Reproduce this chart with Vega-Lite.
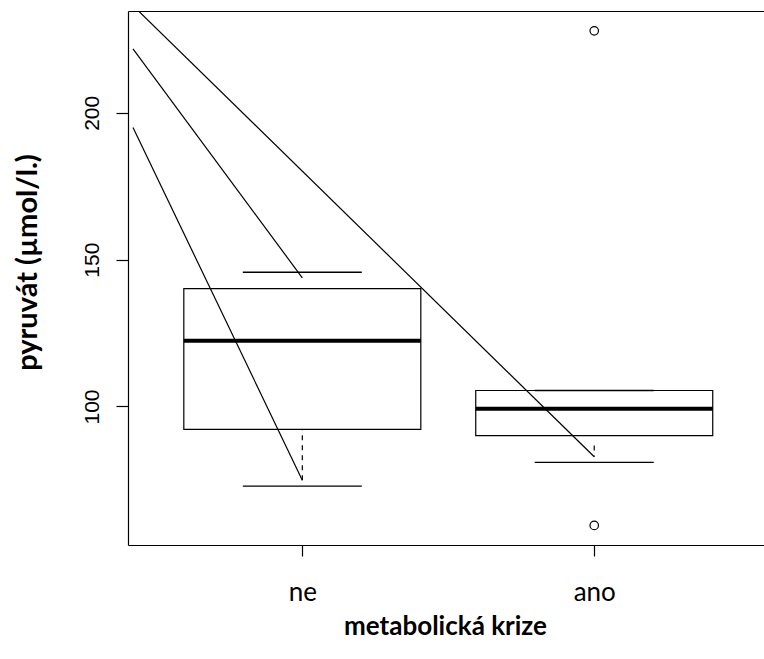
{
  "$schema": "https://vega.github.io/schema/vega-lite/v6.json",
  "width": 636,
  "height": 534,
  "autosize": {"type": "none"},
  "padding": {"left": 128, "top": 11, "right": 0, "bottom": 114},
  "background": "white",
  "config": {
    "view": {"stroke": null},
    "axis": {"grid": false, "domainColor": "black", "domainWidth": 1.2, "tickColor": "black", "tickWidth": 1.2, "labelColor": "black", "titleColor": "black"}
  },
  "datasets": {
    "boxes": [
      {"pos": 1, "group": "ne", "lower": 72.9, "q1": 92.2, "median": 122.4, "q3": 140.1, "upper": 145.7},
      {"pos": 2, "group": "ano", "lower": 81.0, "q1": 90.1, "median": 99.2, "q3": 105.45, "upper": 105.45}
    ],
    "outliers": [
      {"pos": 2, "value": 227.9},
      {"pos": 2, "value": 59.5}
    ],
    "whiskers": [
      {"pos": 1, "start": 74.9, "end": 92.2},
      {"pos": 2, "start": 86.7, "end": 82.9}
    ],
    "lines": [
      {"x1": 0.42, "y1": 236.5, "x2": 2, "y2": 82.9},
      {"x1": 0.42, "y1": 221.8, "x2": 1, "y2": 143.8},
      {"x1": 0.42, "y1": 195.0, "x2": 1, "y2": 74.9}
    ]
  },
  "resolve": {"axis": {"x": "independent", "y": "independent"}},
  "layer": [
    {
      "data": {"name": "boxes"},
      "mark": {"type": "bar", "width": 237, "fill": "white", "stroke": "black", "strokeWidth": 1.2, "opacity": 1},
      "encoding": {
        "x": {
          "field": "pos", "type": "quantitative",
          "scale": {"domain": [0.42, 2.5644], "nice": false, "zero": false},
          "axis": {
            "orient": "bottom", "values": [1, 2],
            "labelExpr": "datum.value == 1 ? 'ne' : 'ano'",
            "labelFont": "Lato", "labelFontSize": 26, "labelBaseline": "alphabetic",
            "labelPadding": 44, "tickSize": 11, "labelFlush": false, "labelOverlap": false,
            "title": "metabolická krize", "titleFont": "Lato", "titleFontWeight": "bold",
            "titleFontSize": 26, "titleX": 317, "titleY": 89, "titleBaseline": "alphabetic", "titleAlign": "center"
          }
        },
        "y": {
          "field": "q1", "type": "quantitative",
          "scale": {"domain": [52.84, 234.66], "nice": false, "zero": false},
          "axis": {
            "orient": "left", "values": [100, 150, 200],
            "labelAngle": -90, "labelAlign": "center", "labelBaseline": "alphabetic",
            "labelFont": "Liberation Sans", "labelFontSize": 21, "labelPadding": 18, "tickSize": 12,
            "labelFlush": false, "labelOverlap": false,
            "title": "pyruvát (µmol/l.)", "titleFont": "Lato", "titleFontWeight": "bold",
            "titleFontSize": 29, "titleAngle": -90, "titleX": -92, "titleY": 251,
            "titleBaseline": "alphabetic", "titleAlign": "center"
          }
        },
        "y2": {"field": "q3"}
      }
    },
    {
      "data": {"name": "whiskers"},
      "mark": {"type": "rule", "color": "black", "strokeWidth": 1.2, "strokeDash": [5, 5], "opacity": 1},
      "encoding": {
        "x": {"field": "pos", "type": "quantitative", "scale": {"domain": [0.42, 2.5644], "nice": false, "zero": false}, "axis": null},
        "y": {"field": "start", "type": "quantitative", "scale": {"domain": [52.84, 234.66], "nice": false, "zero": false}, "axis": null},
        "y2": {"field": "end"}
      }
    },
    {
      "data": {"name": "boxes"},
      "mark": {"type": "tick", "orient": "horizontal", "size": 119, "thickness": 1.3, "color": "black", "opacity": 1},
      "encoding": {
        "x": {"field": "pos", "type": "quantitative", "scale": {"domain": [0.42, 2.5644], "nice": false, "zero": false}, "axis": null},
        "y": {"field": "lower", "type": "quantitative", "scale": {"domain": [52.84, 234.66], "nice": false, "zero": false}, "axis": null}
      }
    },
    {
      "data": {"name": "boxes"},
      "mark": {"type": "tick", "orient": "horizontal", "size": 119, "thickness": 1.3, "color": "black", "opacity": 1},
      "encoding": {
        "x": {"field": "pos", "type": "quantitative", "scale": {"domain": [0.42, 2.5644], "nice": false, "zero": false}, "axis": null},
        "y": {"field": "upper", "type": "quantitative", "scale": {"domain": [52.84, 234.66], "nice": false, "zero": false}, "axis": null}
      }
    },
    {
      "data": {"name": "boxes"},
      "mark": {"type": "tick", "orient": "horizontal", "size": 237, "thickness": 4, "color": "black", "opacity": 1},
      "encoding": {
        "x": {"field": "pos", "type": "quantitative", "scale": {"domain": [0.42, 2.5644], "nice": false, "zero": false}, "axis": null},
        "y": {"field": "median", "type": "quantitative", "scale": {"domain": [52.84, 234.66], "nice": false, "zero": false}, "axis": null}
      }
    },
    {
      "data": {"name": "outliers"},
      "mark": {"type": "point", "shape": "circle", "filled": false, "size": 72, "stroke": "black", "strokeWidth": 1.2, "opacity": 1},
      "encoding": {
        "x": {
          "field": "pos", "type": "quantitative", "scale": {"domain": [0.42, 2.5644], "nice": false, "zero": false},
          "axis": {"orient": "top", "labels": false, "ticks": false, "title": null, "domain": true}
        },
        "y": {"field": "value", "type": "quantitative", "scale": {"domain": [52.84, 234.66], "nice": false, "zero": false}, "axis": null}
      }
    },
    {
      "data": {"name": "lines"},
      "mark": {"type": "rule", "color": "black", "strokeWidth": 1.2, "clip": true, "opacity": 1},
      "encoding": {
        "x": {"field": "x1", "type": "quantitative", "scale": {"domain": [0.42, 2.5644], "nice": false, "zero": false}, "axis": null},
        "x2": {"field": "x2"},
        "y": {"field": "y1", "type": "quantitative", "scale": {"domain": [52.84, 234.66], "nice": false, "zero": false}, "axis": null},
        "y2": {"field": "y2"}
      }
    }
  ]
}
